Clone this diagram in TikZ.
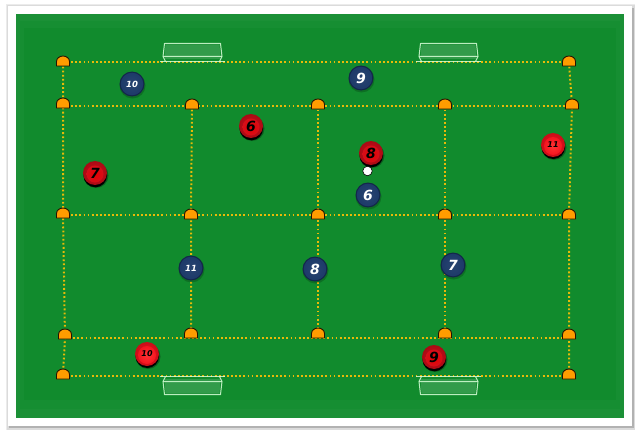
\documentclass[tikz,border=0pt]{standalone}
\usepackage{fontspec}
\setmainfont{DejaVu Sans}
\definecolor{fieldedge}{HTML}{1B9036}
\definecolor{fieldmid}{HTML}{168E32}
\definecolor{fieldin}{HTML}{118B2D}
\definecolor{marker}{HTML}{E8BA08}
\definecolor{conefill}{HTML}{FF9C00}
\definecolor{navy}{HTML}{1D3A69}
\definecolor{navydark}{HTML}{14264A}
\definecolor{redcore}{HTML}{F4141F}
\definecolor{redrim}{HTML}{C90D18}
\definecolor{deepcore}{HTML}{D50F1A}
\definecolor{deeprim}{HTML}{A80A14}
\tikzset{
  x=1pt,y=-1pt,
  lane/.style={draw=marker,line width=2pt,dash pattern=on 1.8pt off 2.3pt},
  conebody/.style={draw=black!85!orange,line width=.9pt,fill=conefill,line join=round},
  goalframe/.style={draw=white!85!green,line width=1pt,line join=round,opacity=.85},
  goalnet/.style={fill=white,opacity=.14},
  playernum/.style={inner sep=0pt},
  ballmark/.style={circle,draw=black,line width=.6pt,fill=white,minimum size=9.5pt,inner sep=0pt},
}
% cone marker whose base straddles a grid crossing
\newcommand{\conemark}[3]{%
  \draw[conebody] (#2-6.5,#3+4) -- (#2-6.5,#3-.5) arc[start angle=180,end angle=0,x radius=6.5pt,y radius=5.5pt] -- (#2+6.5,#3+4) -- cycle;
}
% circular counters for the two teams
\newcommand{\navyman}[5]{%
  \fill[black,opacity=.2] (#2+.5,#3+1.5) circle[radius=13];
  \fill[navydark] (#2,#3) circle[radius=12.5];
  \shade[inner color=navy!95!white,outer color=navy] (#2,#3) circle[radius=11.3];
  \node[playernum,text=white,font=\bfseries\itshape#5] (#1) at (#2,#3) {#4};
}
% bright counters carry the small shirt numbers
\newcommand{\redman}[5]{%
  \fill[black,opacity=.3] (#2+1,#3+2.5) circle[radius=12.5];
  \fill[black] (#2+.3,#3+2.2) circle[radius=11.8];
  \shade[inner color=redcore,outer color=redrim] (#2,#3) circle[radius=12];
  \shade[inner color=red!80!white,outer color=redcore] (#2,#3+1) circle[radius=9];
  \node[playernum,text=black,font=\bfseries\itshape#5] (#1) at (#2,#3) {#4};
}
\newcommand{\deepman}[5]{%
  \fill[black,opacity=.3] (#2+1,#3+2.5) circle[radius=12.5];
  \fill[black] (#2+.3,#3+2.5) circle[radius=11.8];
  \shade[inner color=deepcore,outer color=deeprim] (#2,#3) circle[radius=12];
  \shade[inner color=red!90!black,outer color=deepcore] (#2,#3+1) circle[radius=8.5];
  \node[playernum,text=black,font=\bfseries\itshape#5] (#1) at (#2,#3) {#4};
}
% goal with its net; #3 is +1 when the net stands above the line, -1 below it
\newcommand{\goalbox}[3]{%
  \fill[goalnet] (#1+1.5,#2-#3*2.5) -- (#1+57.5,#2-#3*2.5) -- (#1+56.5,#2-#3*17) -- (#1+2.5,#2-#3*17) -- cycle;
  \draw[goalframe] (#1,#2-#3*5) -- (#1+1.5,#2-#3*18) -- (#1+57.5,#2-#3*18) -- (#1+59,#2-#3*5) -- cycle;
  \draw[goalframe] (#1+2.5,#2) -- (#1,#2-#3*5) (#1+56.5,#2) -- (#1+59,#2-#3*5);
  \draw[goalframe,line width=1.1pt] (#1-3,#2) -- (#1+62,#2);
}
\begin{document}
\begin{tikzpicture}
\useasboundingbox (0,0) rectangle (640,436);
\fill[white] (0,0) rectangle (640,436);
% framed card with soft shadow
\fill[black!8] (6,4) rectangle (635,430);
\fill[black!14] (7,5) rectangle (634.5,429.5);
\fill[black!30] (9,8) rectangle (634,428);
\fill[white] (8,6) rectangle (632,426);
% pitch
\fill[fieldedge] (16,14) rectangle (624,418);
\fill[fieldmid] (20,21) rectangle (620,409);
\fill[fieldin] (24,28) rectangle (616,400);

\path
  (63,62.5) coordinate (a1) (569,62.5) coordinate (a5)
  (63,105.5) coordinate (b1) (192,105.5) coordinate (b2) (318,105.5) coordinate (b3) (445,105.5) coordinate (b4) (572,105.5) coordinate (b5)
  (63,214.5) coordinate (c1) (191,214.5) coordinate (c2) (318,214.5) coordinate (c3) (445,214.5) coordinate (c4) (569,214.5) coordinate (c5)
  (65,337.5) coordinate (d1) (191,337.5) coordinate (d2) (318,337.5) coordinate (d3) (445,337.5) coordinate (d4) (569,337.5) coordinate (d5)
  (63,375.5) coordinate (e1) (569,375.5) coordinate (e5);

% dotted grid
\draw[lane] (a1) -- (a5);
\draw[lane] (b1) -- (b2) -- (b3) -- (b4) -- (b5);
\draw[lane] (c1) -- (c2) -- (c3) -- (c4) -- (c5);
\draw[lane] (d1) -- (d2) -- (d3) -- (d4) -- (d5);
\draw[lane] (e1) -- (e5);
\draw[lane] (a1) -- (b1) -- (c1) -- (d1) -- (e1);
\draw[lane] (b2) -- (c2) -- (d2);
\draw[lane] (b3) -- (c3) -- (d3);
\draw[lane] (b4) -- (c4) -- (d4);
\draw[lane] (a5) -- (b5) -- (c5) -- (d5) -- (e5);

% goals
\goalbox{163}{61.5}{1}
\goalbox{419}{61.5}{1}
\goalbox{163}{376.5}{-1}
\goalbox{419}{376.5}{-1}

% cones
\conemark{a1}{63}{62}\conemark{a5}{569}{62}
\conemark{b1}{63}{104}\conemark{b2}{192}{105}\conemark{b3}{318}{105}\conemark{b4}{445}{105}\conemark{b5}{572}{105}
\conemark{c1}{63}{214}\conemark{c2}{191}{215}\conemark{c3}{318}{215}\conemark{c4}{445}{215}\conemark{c5}{569}{215}
\conemark{d1}{65}{335}\conemark{d2}{191}{334}\conemark{d3}{318}{334}\conemark{d4}{445}{334}\conemark{d5}{569}{335}
\conemark{e1}{63}{375}\conemark{e5}{569}{375}

% blue team
\navyman{n10}{132}{84}{10}{\fontsize{8.5}{10}\selectfont}
\navyman{n9}{361}{78}{9}{\fontsize{14}{16}\selectfont}
\navyman{n6}{368}{195}{6}{\fontsize{14}{16}\selectfont}
\navyman{n11}{191}{268}{11}{\fontsize{8.5}{10}\selectfont}
\navyman{n8}{315}{269}{8}{\fontsize{14}{16}\selectfont}
\navyman{n7}{453}{265}{7}{\fontsize{14}{16}\selectfont}

% red team
\deepman{r7}{95}{173}{7}{\fontsize{14}{16}\selectfont}
\deepman{r6}{251}{126}{6}{\fontsize{14}{16}\selectfont}
\deepman{r8}{371}{153}{8}{\fontsize{14}{16}\selectfont}
\redman{r11}{553}{145}{11}{\fontsize{8}{9}\selectfont}
\redman{r10}{147}{354}{10}{\fontsize{8}{9}\selectfont}
\deepman{r9}{434}{357}{9}{\fontsize{14}{16}\selectfont}

% ball
\node[ballmark] (ball) at (367.5,171) {};
\end{tikzpicture}
\end{document}
